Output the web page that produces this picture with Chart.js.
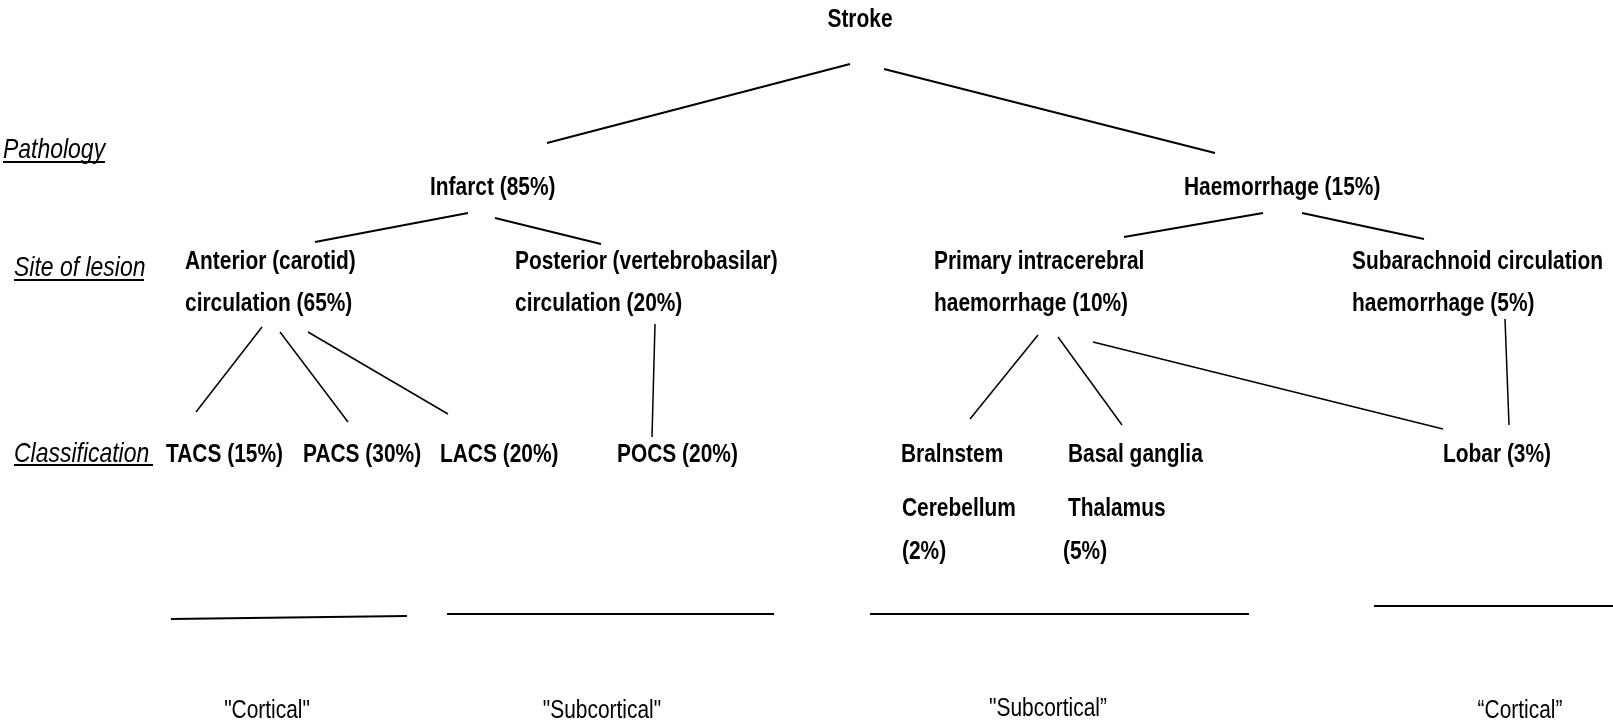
<!DOCTYPE html>
<html>
<head>
<meta charset="utf-8">
<script src="https://cdn.jsdelivr.net/npm/chart.js@4/dist/chart.umd.min.js"></script>
<style>
html,body{margin:0;padding:0;background:#fff;}
#wrap{width:1613px;height:726px;}
</style>
</head>
<body>
<div id="wrap"><canvas id="c" width="1613" height="726"></canvas></div>
<script>
// ---- data ----
const levelLabels = ['Pathology', 'Site of lesion', 'Classification '];
const nodeNames = [
  ['Stroke'],
  ['Infarct'],
  ['Haemorrhage'],
  ['Anterior (carotid)', 'circulation'],
  ['Posterior (vertebrobasilar)', 'circulation'],
  ['Primary intracerebral', 'haemorrhage'],
  ['Subarachnoid circulation', 'haemorrhage'],
  ['TACS'], ['PACS'], ['LACS'], ['POCS'],
  ['Bralnstem', 'Cerebellum', ''],
  ['Basal ganglia', 'Thalamus', ''],
  ['Lobar']
];
const nodePercent = [null, 85, 15, 65, 20, 10, 5, 15, 30, 20, 20, 2, 5, 3];
const edgeParent = [0, 0, 1, 1, 2, 2, 3, 3, 3, 4, 5, 5, 5, 6];
const edgeChild  = [1, 2, 3, 4, 5, 6, 7, 8, 9, 10, 11, 12, 13, 13];
const groupLabels = ['"Cortical"', '"Subcortical"', '"Subcortical\u201d', '\u201cCortical\u201d'];

// ---- layout (diagram coordinates) ----
const nodePos = [
  {x: 860, align: 'center', ys: [20]},
  {x: 430, align: 'left', ys: [188]},
  {x: 1184, align: 'left', ys: [188]},
  {x: 185, align: 'left', ys: [262, 304]},
  {x: 515, align: 'left', ys: [262, 304]},
  {x: 934, align: 'left', ys: [262, 304]},
  {x: 1352, align: 'left', ys: [262, 304]},
  {x: 166, align: 'left', ys: [455]},
  {x: 303, align: 'left', ys: [455]},
  {x: 440, align: 'left', ys: [455]},
  {x: 617, align: 'left', ys: [455]},
  {x: 901, align: 'left', ys: [455, 509, 552], xs: [901, 902, 902]},
  {x: 1068, align: 'left', ys: [455, 509, 552], xs: [1068, 1068, 1063]},
  {x: 1443, align: 'left', ys: [455]}
];
const edgeLayout = [
  [850, 64, 547, 143],
  [884, 69, 1215, 153],
  [468, 213, 315, 242],
  [495, 218, 601, 244],
  [1263, 213, 1124, 237],
  [1302, 213, 1424, 239],
  [262, 327, 196, 412],
  [280, 332, 348, 422],
  [308, 332, 448, 414],
  [655, 324, 652, 437],
  [1038, 335, 970, 419],
  [1058, 337, 1122, 425],
  [1093, 342, 1443, 429],
  [1505, 319, 1509, 425]
];
const groupRules = [
  [171, 619, 407, 616],
  [447, 614, 774, 614],
  [870, 614, 1249, 614],
  [1374, 606, 1613, 606]
];
const groupLabelPos = [[267, 711], [602, 711], [1048, 709], [1520, 711]];
const levelPos = [[3, 150, 162, 105], [14, 268, 280, 144], [14, 454, 465, 153]];

const FAM = "'Liberation Sans', Arial, sans-serif";
const NARROW = 0.82; // Arial Narrow style condensing

function nodeLines(i) {
  const lines = nodeNames[i].slice();
  const p = nodePercent[i];
  if (p !== null) {
    const last = lines.length - 1;
    if (lines[last] === '') lines[last] = '(' + p + '%)';
    else lines[last] = lines[last] + ' (' + p + '%)';
  }
  return lines;
}

const datasets = [];
edgeParent.forEach((p, k) => {
  const e = edgeLayout[k];
  datasets.push({
    data: [{x: e[0], y: e[1]}, {x: e[2], y: e[3]}],
    borderColor: '#000', borderWidth: k < 6 ? 1.9 : 1.5,
    showLine: true, pointRadius: 0, fill: false
  });
});
groupRules.forEach(r => {
  datasets.push({
    data: [{x: r[0], y: r[1]}, {x: r[2], y: r[3]}],
    borderColor: '#000', borderWidth: 2.2,
    showLine: true, pointRadius: 0, fill: false
  });
});

function narrowText(c, t, px, py, align) {
  c.save();
  c.translate(px, py);
  c.scale(NARROW, 1);
  c.textAlign = align;
  c.fillText(t, 0, 0);
  c.restore();
}

const textPlugin = {
  id: 'texts',
  beforeDraw(chart) {
    const c = chart.ctx;
    c.save(); c.fillStyle = '#fff'; c.fillRect(0, 0, chart.width, chart.height); c.restore();
  },
  afterDatasetsDraw(chart) {
    const c = chart.ctx, sx = chart.scales.x, sy = chart.scales.y;
    c.save();
    c.fillStyle = '#000';
    c.textBaseline = 'middle';
    c.font = 'bold 25.5px ' + FAM;
    nodeNames.forEach((n, i) => {
      const pos = nodePos[i];
      const lines = nodeLines(i);
      lines.forEach((t, j) => {
        const x = pos.xs ? pos.xs[j] : pos.x;
        narrowText(c, t, sx.getPixelForValue(x), sy.getPixelForValue(pos.ys[j]), pos.align);
      });
    });
    c.font = 'italic 28px ' + FAM;
    levelLabels.forEach((t, i) => {
      const p = levelPos[i];
      narrowText(c, t, sx.getPixelForValue(p[0]), sy.getPixelForValue(p[1]), 'left');
      c.beginPath();
      c.lineWidth = 2;
      c.strokeStyle = '#000';
      c.moveTo(sx.getPixelForValue(p[0]), sy.getPixelForValue(p[2]));
      c.lineTo(sx.getPixelForValue(p[3]), sy.getPixelForValue(p[2]));
      c.stroke();
    });
    c.font = '25.5px ' + FAM;
    groupLabels.forEach((t, i) => {
      const p = groupLabelPos[i];
      narrowText(c, t, sx.getPixelForValue(p[0]), sy.getPixelForValue(p[1]), 'center');
    });
    c.restore();
  }
};

new Chart(document.getElementById('c'), {
  type: 'scatter',
  data: { datasets },
  options: {
    responsive: false,
    devicePixelRatio: 1,
    animation: false,
    layout: { padding: 0 },
    plugins: { legend: { display: false }, tooltip: { enabled: false } },
    scales: {
      x: { type: 'linear', min: 0, max: 1613, display: false },
      y: { type: 'linear', min: 0, max: 726, reverse: true, display: false }
    }
  },
  plugins: [textPlugin]
});
</script>
</body>
</html>
